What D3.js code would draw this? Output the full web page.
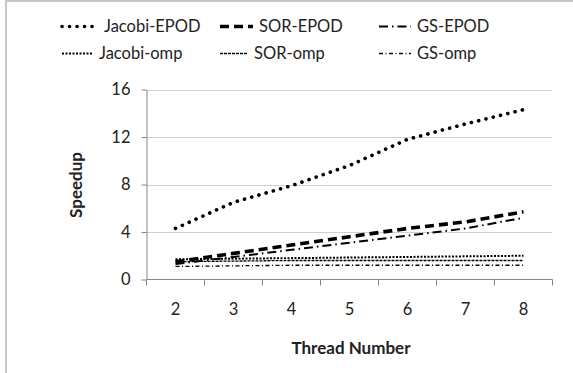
<!DOCTYPE html>
<html><head><meta charset="utf-8">
<script src="https://cdn.jsdelivr.net/npm/d3@7/dist/d3.min.js"></script>
<style>body{margin:0;background:#fff}svg{display:block}text{font-family:Lato,"Open Sans",sans-serif;fill:#222}</style>
</head><body><svg id="c" width="573" height="373"></svg>
<script>
const threads = ["2","3","4","5","6","7","8"];
const yTicks = [0,4,8,12,16];
const jacobiEPOD = [4.3,6.5,7.9,9.6,11.8,13.1,14.3];
const sorEPOD = [1.5,2.2,2.9,3.6,4.3,4.85,5.7];
const gsEPOD = [1.3,1.9,2.5,3.1,3.7,4.3,5.2];
const jacobiOmp = [1.7,1.75,1.8,1.85,1.9,1.95,2.0];
const sorOmp = [1.5,1.55,1.6,1.6,1.6,1.6,1.6];
const gsOmp = [1.1,1.15,1.2,1.2,1.2,1.2,1.2];
const seriesNames = ["Jacobi-EPOD","SOR-EPOD","GS-EPOD","Jacobi-omp","SOR-omp","GS-omp"];

const styles = [
  {w:3.6, dash:"0.1 7.4", cap:"round"},
  {w:3.6, dash:"9 5", cap:"butt"},
  {w:2, dash:"9 4 1.5 4", cap:"butt"},
  {w:2, dash:"2 1.5", cap:"butt"},
  {w:1.3, dash:"3 1", cap:"butt"},
  {w:1.3, dash:"4 2.5 1 2.5", cap:"butt"}
];
const data = [jacobiEPOD,sorEPOD,gsEPOD,jacobiOmp,sorOmp,gsOmp];

const svg = d3.select("#c");
svg.append("rect").attr("x",6).attr("y",1).attr("width",600).attr("height",400)
  .attr("fill","none").attr("stroke","#c8c8c8").attr("stroke-width",2);

const x = d3.scaleBand().domain(threads).range([146.5,552.5]);
const y = d3.scaleLinear().domain([0,16]).range([279.5,89.5]);

svg.append("g").selectAll("line").data(yTicks.filter(d=>d>0)).join("line")
  .attr("x1",146.5).attr("x2",552.5).attr("y1",d=>Math.round(y(d))+0.5).attr("y2",d=>Math.round(y(d))+0.5)
  .attr("stroke","#a0a0a0").attr("stroke-width",1).attr("stroke-dasharray","1 1");

const ya = svg.append("g").attr("transform","translate(146.5,0)")
  .call(d3.axisLeft(y).tickValues(yTicks).tickSize(5).tickPadding(11).tickSizeOuter(0));
ya.select(".domain").attr("stroke","#868686");
ya.selectAll(".tick line").attr("stroke","#868686");
ya.selectAll("text").attr("font-size",16.5).attr("font-family","Lato, sans-serif").attr("fill","#222");

const xa = svg.append("g").attr("transform","translate(0,279.5)")
  .call(d3.axisBottom(x).tickSize(0).tickPadding(24));
xa.select(".domain").attr("stroke","#868686").attr("d","M146.5,0H552.5");
xa.selectAll("text").attr("font-size",16.5).attr("font-family","Lato, sans-serif").attr("fill","#222");
const bounds = threads.map(t=>x(t)).concat([x.range()[1]]);
svg.append("g").selectAll("line").data(bounds).join("line")
  .attr("x1",d=>d).attr("x2",d=>d).attr("y1",279.5).attr("y2",285.5).attr("stroke","#868686");

const line = d3.line().x((d,i)=>x(threads[i])+x.bandwidth()/2).y(d=>y(d));
data.forEach((s,i)=>{
  svg.append("path").datum(s).attr("d",line).attr("fill","none").attr("stroke","#000")
    .attr("stroke-width",styles[i].w).attr("stroke-dasharray",styles[i].dash).attr("stroke-linecap",styles[i].cap);
});

svg.append("text").attr("x",351).attr("y",354).attr("text-anchor","middle")
  .attr("font-size",17).attr("font-weight","bold").text("Thread Number");
svg.append("text").attr("transform","translate(82,185) rotate(-90)").attr("text-anchor","middle")
  .attr("font-size",17).attr("font-weight","bold").text("Speedup");

const legPos = [[62,32],[220,32],[379,32],[62,59],[220,59],[379,59]];
const legText = [104,259,417,99,254,417];
seriesNames.forEach((n,i)=>{
  const [lx,ly] = legPos[i];
  const len = legText[i]-lx-6;
  svg.append("line").attr("x1",lx).attr("x2",lx+len).attr("y1",ly-5.5).attr("y2",ly-5.5)
    .attr("stroke","#000").attr("stroke-width",styles[i].w).attr("stroke-dasharray",styles[i].dash).attr("stroke-linecap",styles[i].cap);
  svg.append("text").attr("x",legText[i]).attr("y",ly).attr("font-size",16.5).text(n);
});
</script></body></html>
